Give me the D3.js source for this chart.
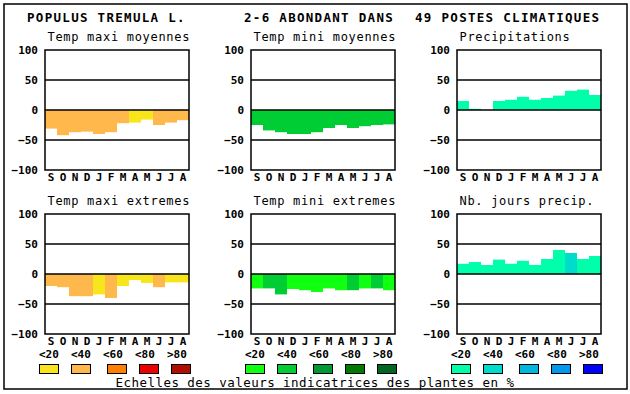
<!DOCTYPE html>
<html>
<head>
<meta charset="utf-8">
<script src="https://cdn.jsdelivr.net/npm/d3@7"></script>
<style>
  body { margin: 0; background: #fff; }
  svg { display: block; }
  text { font-family: "DejaVu Sans Mono", monospace; fill: #000; }
</style>
</head>
<body>
<svg id="chart"></svg>
<script>
// months, september to august
const months = ["S", "O", "N", "D", "J", "F", "M", "A", "M ", "J ", "J  ", "A "];
const monthLabels = ["S", "O", "N", "D", "J", "F", "M", "A", "M", "J", "J", "A"];
const yTicks = [-100, -50, 0, 50, 100];

const panelTitles = ["Temp maxi moyennes", "Temp mini moyennes", "Precipitations",
                     "Temp maxi extremes", "Temp mini extremes", "Nb. jours precip."];

// values per panel
const maxiMoy = [-31, -42, -37, -36, -40, -37, -22, -21, -16, -25, -21, -17];
const miniMoy = [-25, -34, -37, -40, -40, -37, -30, -25, -30, -27, -25, -24];
const precip = [15, 2, 0, 15, 17, 22, 17, 20, 24, 32, 34, 25];
const maxiExt = [-20, -22, -37, -37, -34, -40, -20, -10, -15, -22, -14, -14];
const miniExt = [-24, -24, -34, -25, -27, -30, -24, -27, -27, -24, -24, -27];
const nbJours = [17, 20, 15, 24, 17, 22, 15, 25, 40, 35, 25, 30];

// colour class of each bar (index into the panel's legend scale)
const maxiMoyCls = [1, 1, 1, 1, 1, 1, 1, 0, 0, 1, 1, 1];
const miniMoyCls = [1, 1, 1, 1, 1, 1, 1, 1, 1, 1, 1, 1];
const precipCls  = [0, 0, 0, 0, 0, 0, 0, 0, 0, 0, 0, 0];
const maxiExtCls = [1, 1, 1, 1, 0, 1, 0, 0, 0, 1, 0, 0];
const miniExtCls = [0, 1, 1, 0, 0, 0, 0, 0, 1, 0, 1, 0];
const nbJoursCls = [0, 0, 0, 0, 0, 0, 0, 0, 0, 1, 0, 0];

const legendLabels = ["<20", "<40", "<60", "<80", ">80"];
const warmColors  = ["#f8e51c", "#ffb84c", "#ff7f00", "#ee0000", "#b00f00"];
const greenColors = ["#11ff11", "#00cc33", "#009933", "#007a00", "#006622"];
const blueColors  = ["#00ffaa", "#00dccc", "#00b8dd", "#0099ee", "#0000ff"];

function init() {
    const width = 630, height = 394;
    const pw = 144, ph = 120;
    const colX = [45, 251, 457];
    const rowY = [50, 214];

    const svg = d3.select("#chart").attr("width", width).attr("height", height);

    // outer frame
    svg.append("rect")
        .attr("x", 4).attr("y", 4).attr("width", 623).attr("height", 385)
        .attr("fill", "none").attr("stroke", "#000").attr("stroke-width", 1.5);

    // header
    const header = [["POPULUS TREMULA L.", 27], ["2-6 ABONDANT DANS", 244], ["49 POSTES CLIMATIQUES", 415]];
    svg.selectAll(".hdr").data(header).enter()
        .append("text")
        .attr("class", "hdr")
        .attr("x", d => d[0] ? d[1] : 0)
        .attr("y", 22)
        .style("font-size", "12.5px")
        .style("font-weight", "bold")
        .style("letter-spacing", "1.3px")
        .text(d => d[0]);

    const x = d3.scaleBand().domain(months).range([0, pw]);
    const y = d3.scaleLinear().domain([-100, 100]).range([ph, 0]);

    const panels = [
        { vals: maxiMoy, cls: maxiMoyCls, colors: warmColors },
        { vals: miniMoy, cls: miniMoyCls, colors: greenColors },
        { vals: precip,  cls: precipCls,  colors: blueColors },
        { vals: maxiExt, cls: maxiExtCls, colors: warmColors },
        { vals: miniExt, cls: miniExtCls, colors: greenColors },
        { vals: nbJours, cls: nbJoursCls, colors: blueColors }
    ];

    panels.forEach((p, i) => {
        const g = svg.append("g")
            .attr("transform", `translate(${colX[i % 3]}, ${rowY[Math.floor(i / 3)]})`);

        // title
        g.append("text")
            .attr("x", 2.5).attr("y", -9)
            .style("font-size", "12px")
            .style("letter-spacing", "0.7px")
            .text(panelTitles[i]);

        // bars
        g.selectAll(".bar").data(p.vals).enter()
            .append("rect")
            .attr("x", (d, j) => x(months[j]))
            .attr("width", x.bandwidth())
            .attr("y", d => y(Math.max(0, d)))
            .attr("height", d => Math.abs(y(d) - y(0)))
            .attr("fill", (d, j) => p.colors[p.cls[j]]);

        // grid lines
        g.selectAll(".grid").data([-50, 0, 50]).enter()
            .append("line")
            .attr("x1", 0).attr("x2", pw)
            .attr("y1", d => y(d)).attr("y2", d => y(d))
            .attr("stroke", "#000").attr("stroke-width", 1.5);

        g.append("rect")
            .attr("width", pw).attr("height", ph)
            .attr("fill", "none").attr("stroke", "#000").attr("stroke-width", 1.5);

        // y axis labels
        const yAxis = d3.axisLeft(y).tickValues(yTicks).tickSize(0).tickPadding(7);
        g.append("g").call(yAxis)
            .call(a => a.select(".domain").remove())
            .selectAll("text")
            .style("font-family", "DejaVu Sans Mono, monospace")
            .style("font-size", "11px")
            .style("font-weight", "bold")
            .attr("dy", "0.36em");

        // month labels
        const xAxis = d3.axisBottom(x).tickSize(0).tickPadding(3)
            .tickFormat((d, j) => monthLabels[j]);
        g.append("g").attr("transform", `translate(0, ${ph})`).call(xAxis)
            .call(a => a.select(".domain").remove())
            .selectAll("text")
            .style("font-family", "DejaVu Sans Mono, monospace")
            .style("font-size", "11px")
            .style("font-weight", "bold");
    });

    // legends
    const boxOffsets = [0, 32, 68, 100, 132];
    const legendSets = [warmColors, greenColors, blueColors];
    legendSets.forEach((cols, k) => {
        const lg = svg.append("g").attr("transform", `translate(${colX[k] - 6}, 0)`);
        lg.selectAll(".ll").data(legendLabels).enter()
            .append("text")
            .attr("x", (d, j) => j * 32)
            .attr("y", 358)
            .style("font-size", "11px")
            .style("font-weight", "bold")
            .text(d => d);
        lg.selectAll(".lb").data(cols).enter()
            .append("rect")
            .attr("x", (d, j) => boxOffsets[j] + 0.5)
            .attr("y", 364.5)
            .attr("width", 19).attr("height", 9)
            .attr("fill", d => d)
            .attr("stroke", "#000").attr("stroke-width", 1);
    });

    svg.append("text")
        .attr("x", 315).attr("y", 386.5)
        .attr("text-anchor", "middle")
        .style("font-size", "12.5px")
        .style("letter-spacing", "0.45px")
        .text("Echelles des valeurs indicatrices des plantes en %");
}

window.onload = init;
</script>
</body>
</html>
